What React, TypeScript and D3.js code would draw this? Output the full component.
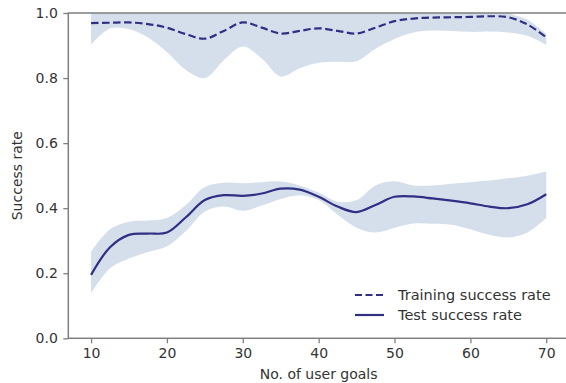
import React, { useEffect, useRef } from 'react';
import * as d3 from 'd3';

// number of user goals
const goals = [10, 12.5, 15, 17.5, 20, 22.5, 25, 27.5, 30, 32.5, 35, 37.5, 40, 42.5, 45, 47.5, 50, 52.5, 55, 57.5, 60, 62.5, 65, 67.5, 70];

const trainMean = [0.969, 0.970, 0.971, 0.966, 0.955, 0.935, 0.921, 0.945, 0.971, 0.955, 0.937, 0.945, 0.953, 0.945, 0.937, 0.955, 0.975, 0.983, 0.986, 0.987, 0.988, 0.990, 0.987, 0.965, 0.925];
const trainLow = [0.902, 0.952, 0.950, 0.925, 0.880, 0.825, 0.800, 0.855, 0.897, 0.860, 0.805, 0.830, 0.847, 0.850, 0.852, 0.890, 0.920, 0.940, 0.946, 0.945, 0.942, 0.943, 0.940, 0.930, 0.902];
const trainHigh = [1.05, 1.05, 1.05, 1.05, 1.05, 1.05, 1.05, 1.05, 1.05, 1.05, 1.05, 1.05, 1.05, 1.05, 1.05, 1.05, 1.05, 1.05, 1.05, 1.05, 1.05, 1.04, 1.0, 0.98, 0.935];

const testMean = [0.195, 0.280, 0.318, 0.322, 0.325, 0.372, 0.425, 0.440, 0.438, 0.445, 0.460, 0.457, 0.435, 0.405, 0.388, 0.410, 0.435, 0.436, 0.430, 0.423, 0.415, 0.405, 0.400, 0.412, 0.443];
const testLow = [0.138, 0.215, 0.245, 0.265, 0.283, 0.330, 0.390, 0.405, 0.392, 0.408, 0.428, 0.440, 0.425, 0.380, 0.340, 0.325, 0.340, 0.353, 0.352, 0.349, 0.335, 0.318, 0.310, 0.325, 0.370];
const testHigh = [0.266, 0.335, 0.358, 0.362, 0.370, 0.410, 0.465, 0.478, 0.477, 0.480, 0.482, 0.470, 0.448, 0.420, 0.425, 0.470, 0.483, 0.470, 0.470, 0.475, 0.480, 0.485, 0.492, 0.500, 0.513];

const xTicks = [10, 20, 30, 40, 50, 60, 70];
const yTicks = [0, 0.2, 0.4, 0.6, 0.8, 1.0];

export default function App() {
  const svgRef = useRef<SVGSVGElement>(null);

  useEffect(() => {
    const left = 68.3, right = 569, top = 13, bottom = 338.3;
    const lineColor = '#2f3083';
    const bandColor = '#d5dfec';
    const textColor = '#333333';
    const spine = '#7f7f7f';
    const font = 'DejaVu Sans, sans-serif';
    const fs = '14px';

    const svg = d3.select(svgRef.current);
    svg.selectAll('*').remove();

    const x = d3.scaleLinear().domain([7, 73]).range([left, right]);
    const y = d3.scaleLinear().domain([0, 1]).range([bottom, top]);

    svg.append('defs').append('clipPath').attr('id', 'plotclip')
      .append('rect').attr('x', left).attr('y', top).attr('width', right - left).attr('height', bottom - top);

    const plot = svg.append('g').attr('clip-path', 'url(#plotclip)');
    const curve = d3.curveCatmullRom.alpha(0.5);

    const band = (lo: number[], hi: number[]) =>
      d3.area<number>().curve(curve).x((d) => x(d)).y0((_, i) => y(lo[i])).y1((_, i) => y(hi[i]))(goals);
    const line = (vals: number[]) =>
      d3.line<number>().curve(curve).x((d) => x(d)).y((_, i) => y(vals[i]))(goals);

    plot.append('path').attr('d', band(trainLow, trainHigh)).attr('fill', bandColor);
    plot.append('path').attr('d', band(testLow, testHigh)).attr('fill', bandColor);

    plot.append('path').attr('d', line(trainMean)).attr('fill', 'none')
      .attr('stroke', lineColor).attr('stroke-width', 2.2).attr('stroke-dasharray', '7.5,3.5');
    plot.append('path').attr('d', line(testMean)).attr('fill', 'none')
      .attr('stroke', lineColor).attr('stroke-width', 2.2);

    // spines
    svg.append('rect').attr('x', left).attr('y', top).attr('width', right - left).attr('height', bottom - top)
      .attr('fill', 'none').attr('stroke', spine).attr('stroke-width', 1.5);

    // x axis
    const xa = svg.append('g').attr('transform', `translate(0,${bottom})`)
      .call(d3.axisBottom(x).tickValues(xTicks).tickSize(5).tickPadding(5).tickFormat(d3.format('d')));
    xa.select('.domain').remove();
    xa.selectAll('line').attr('stroke', spine).attr('stroke-width', 1.3);
    xa.selectAll('text').attr('fill', textColor).style('font-family', font).style('font-size', fs);

    const ya = svg.append('g').attr('transform', `translate(${left},0)`)
      .call(d3.axisLeft(y).tickValues(yTicks).tickSize(5).tickPadding(5.5).tickFormat(d3.format('.1f')));
    ya.select('.domain').remove();
    ya.selectAll('line').attr('stroke', spine).attr('stroke-width', 1.3);
    ya.selectAll('text').attr('fill', textColor).style('font-family', font).style('font-size', fs);

    svg.append('text').attr('x', (left + right) / 2).attr('y', 379)
      .attr('text-anchor', 'middle').attr('fill', textColor)
      .style('font-family', font).style('font-size', fs).text('No. of user goals');

    svg.append('text').attr('transform', `translate(22,${(top + bottom) / 2}) rotate(-90)`)
      .attr('text-anchor', 'middle').attr('fill', textColor)
      .style('font-family', font).style('font-size', fs).text('Success rate');

    // legend
    const legend = svg.append('g');
    const items = [
      { label: 'Training success rate', dash: '7,3.5', y: 295 },
      { label: 'Test success rate', dash: null, y: 315 },
    ];
    items.forEach((it) => {
      legend.append('line').attr('x1', 355).attr('x2', 384).attr('y1', it.y).attr('y2', it.y)
        .attr('stroke', lineColor).attr('stroke-width', 2.2)
        .attr('stroke-dasharray', it.dash ?? null);
      legend.append('text').attr('x', 398).attr('y', it.y + 5).attr('fill', textColor)
        .style('font-family', font).style('font-size', '14.5px').text(it.label);
    });
  }, []);

  return (
    <svg ref={svgRef} width={566} height={383}
      style={{ position: 'fixed', left: 0, top: 0, background: '#fff' }} />
  );
}
